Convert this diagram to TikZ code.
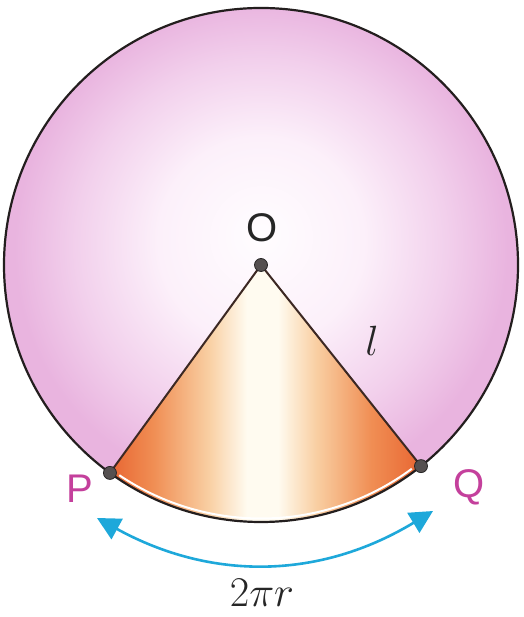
\documentclass[tikz,border=0pt]{standalone}
\usepackage{fontspec}
\usepackage{graphicx}
\newfontfamily\labfont{Liberation Sans}
\usetikzlibrary{arrows.meta}
\definecolor{pinkc0}{RGB}{255,253,255}
\definecolor{pinkc1}{RGB}{252,240,250}
\definecolor{pinkc2}{RGB}{242,208,236}
\definecolor{pinkc3}{RGB}{233,180,223}
\definecolor{oraA}{RGB}{232,102,50}
\definecolor{oraB}{RGB}{240,142,84}
\definecolor{oraC}{RGB}{249,208,164}
\definecolor{oraD}{RGB}{255,251,240}
\definecolor{lineDark}{RGB}{35,30,30}
\definecolor{sideDark}{RGB}{60,40,35}
\definecolor{dotGray}{RGB}{85,80,80}
\definecolor{dotDark}{RGB}{40,38,38}
\definecolor{labPink}{RGB}{196,64,156}
\definecolor{arrowCyan}{RGB}{30,168,218}
\pgfdeclareradialshading{pinkdisc}{\pgfpoint{0bp}{3bp}}{color(0bp)=(pinkc0); color(10bp)=(pinkc1); color(18bp)=(pinkc2); color(24bp)=(pinkc3); color(50bp)=(pinkc3)}
\pgfdeclarehorizontalshading{conefill}{100bp}{color(0bp)=(oraA); color(25bp)=(oraA); color(32bp)=(oraB); color(41bp)=(oraC); color(47bp)=(oraD); color(52bp)=(oraD); color(58bp)=(oraC); color(67bp)=(oraB); color(75bp)=(oraA); color(100bp)=(oraA)}
\newcommand{\bigmath}[1]{\scalebox{1.7}{\Huge$#1$}}
\begin{document}
\begin{tikzpicture}[x=1pt,y=1pt,
  outline/.style={draw=lineDark, line width=2.2pt},
  side/.style={draw=sideDark, line width=2pt},
  dot/.style={circle, fill=dotGray, draw=dotDark, line width=0.8pt, inner sep=0pt, minimum size=13pt},
  ptlabel/.style={text=labPink, font=\labfont\fontsize{40}{44}\selectfont, inner sep=0pt},
  olabel/.style={text=black!85, font=\labfont\fontsize{40}{44}\selectfont, inner sep=0pt},
  mathlabel/.style={text=black!85, inner sep=0pt},
  arc arrow/.style={draw=arrowCyan, line width=2.6pt, {Triangle[length=23pt,width=23pt]}-{Triangle[length=23pt,width=23pt]}}]
\useasboundingbox (0,0) rectangle (523,617);
\fill[white] (0,0) rectangle (523,617);
\coordinate (O) at (261,352);
\path (O) ++(234:257) coordinate (P);
\path (O) ++(308.5:257) coordinate (Q);
% disc
\shade[shading=pinkdisc] (O) circle (257);
% sector
\shade[shading=conefill] (O) -- (P) arc[start angle=234,end angle=308.5,radius=257] -- cycle;
\path (O) ++(236:253.5) coordinate (w1);
\draw[white, line width=2pt] (w1) arc[start angle=236,end angle=306.5,radius=253.5];
\draw[outline] (O) circle (257);
\draw[side] (P) -- (O) -- (Q);
% points
\node[dot] (o) at (O) {};
\node[dot] (p) at (P) {};
\node[dot] (q) at (Q) {};
% labels
\node[olabel] (labO) at (262,389) {O};
\node[ptlabel] (labP) at (80,128) {P};
\node[ptlabel] (labQ) at (469,130) {Q};
\node[mathlabel] (labl) at (372,276) {\bigmath{l}};
\node[mathlabel] (lablen) at (262,24) {\bigmath{2\pi r}};
% arrow
\coordinate (a1) at (97,99);
\coordinate (a2) at (433,106);
\draw[arc arrow] (a1) to[bend right=30] (a2);
\end{tikzpicture}
\end{document}
